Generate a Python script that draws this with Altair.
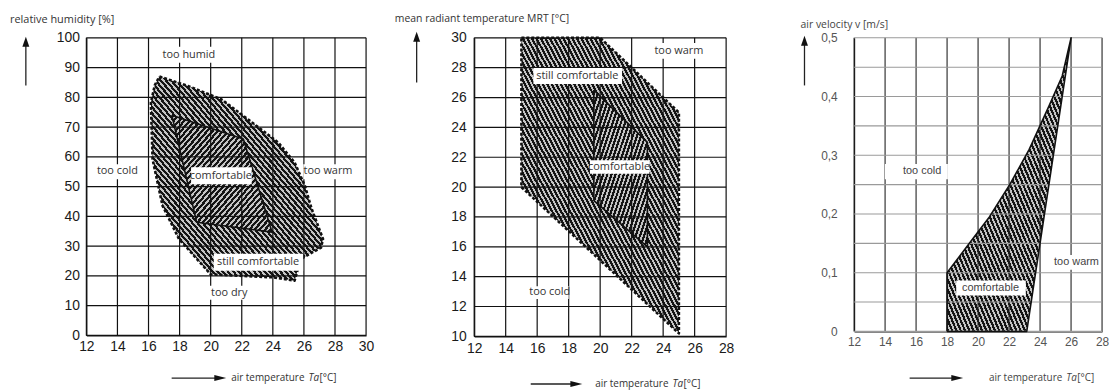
import altair as alt
import pandas as pd

# ---------------- Panel 1: relative humidity vs air temperature ----------------
p1_outer_x = [16.7, 18.6, 20.7, 22.4, 24.35, 25.4, 26.06, 26.5, 27.23, 27.1, 25.8, 25.4, 24.0, 20.0, 19.1, 17.96, 16.9, 16.26, 16.15, 16.4]
p1_outer_y = [87.0, 83.7, 79.3, 72.6, 64.8, 58.1, 50.3, 42.5, 32.4, 29.5, 25.7, 18.4, 19.5, 20.5, 25.75, 32.4, 43.6, 59.2, 78.2, 84.0]
p1_inner_x = [17.5, 22.1, 23.95, 19.1]
p1_inner_y = [74.0, 66.0, 34.7, 38.0]
p1_x_ticks = [12, 14, 16, 18, 20, 22, 24, 26, 28, 30]
p1_y_ticks = [0, 10, 20, 30, 40, 50, 60, 70, 80, 90, 100]
p1_labels = ["too humid", "too cold", "comfortable", "too warm", "still comfortable", "too dry"]
p1_label_x = [18.6, 14.0, 20.65, 27.55, 23.05, 21.2]
p1_label_y = [94.3, 55.2, 53.6, 55.2, 24.5, 14.4]
p1_box_x1 = [16.94, 12.66, 18.74, 25.96, 20.2, 19.9]
p1_box_x2 = [20.39, 15.40, 22.64, 29.15, 25.95, 22.5]
p1_box_y1 = [91.6, 52.5, 50.8, 52.5, 21.7, 12.0]
p1_box_y2 = [97.0, 57.5, 56.5, 57.5, 27.4, 16.7]

# ---------------- Panel 2: mean radiant temperature vs air temperature ----------------
p2_outer_x = [15.0, 20.0, 25.0, 25.0, 15.0]
p2_outer_y = [30.0, 30.0, 25.0, 10.2, 20.0]
p2_inner_x = [19.6, 23.0, 23.0, 19.6]
p2_inner_y = [26.5, 23.0, 16.0, 19.1]
p2_x_ticks = [12, 14, 16, 18, 20, 22, 24, 26, 28]
p2_y_ticks = [10, 12, 14, 16, 18, 20, 22, 24, 26, 28, 30]
p2_labels = ["too warm", "still comfortable", "comfortable", "too cold"]
p2_label_x = [25.0, 18.55, 21.2, 16.8]
p2_label_y = [29.1, 27.45, 21.37, 12.94]
p2_box_x1 = [23.28, 15.76, 19.35, 15.5]
p2_box_x2 = [26.74, 21.39, 23.13, 18.0]
p2_box_y1 = [28.59, 26.9, 20.9, 12.5]
p2_box_y2 = [29.65, 27.97, 21.8, 13.35]

# ---------------- Panel 3: air velocity vs air temperature ----------------
p3_poly_x = [18.0, 18.0, 19.44, 20.73, 22.0, 23.3, 24.58, 25.43, 26.0, 23.14]
p3_poly_y = [0.0, 0.1, 0.15, 0.195, 0.248, 0.31, 0.384, 0.435, 0.5, 0.0]
p3_x_ticks = [12, 14, 16, 18, 20, 22, 24, 26, 28]
p3_y_ticks = [0, 0.05, 0.1, 0.15, 0.2, 0.25, 0.3, 0.35, 0.4, 0.45, 0.5]
p3_labels = ["too cold", "comfortable", "too warm"]
p3_label_x = [16.39, 20.8, 26.35]
p3_label_y = [0.2735, 0.0742, 0.1178]
p3_box_x1 = [13.99, 18.59, 24.9]
p3_box_x2 = [18.05, 23.08, 27.9]
p3_box_y1 = [0.259, 0.0612, 0.105]
p3_box_y2 = [0.285, 0.0867, 0.13]

TITLE_FONT = "Open Sans"
TICK_FONT = "Liberation Sans"
ONE = pd.DataFrame({"k": [0]})


def hatch(n, forward=True, dark="#151515", light="#c4c4c4", frac=0.55):
    stops = []
    for i in range(n):
        a, b, c = i / n, (i + frac) / n, (i + 1) / n
        stops += [
            alt.GradientStop(color=dark, offset=a),
            alt.GradientStop(color=dark, offset=b),
            alt.GradientStop(color=light, offset=b),
            alt.GradientStop(color=light, offset=min(c, 1.0)),
        ]
    if forward:
        return alt.LinearGradient(gradient="linear", stops=stops, x1=0, y1=0, x2=1, y2=1)
    return alt.LinearGradient(gradient="linear", stops=stops, x1=0, y1=1, x2=1, y2=0)


def poly_df(xs, ys):
    xs = list(xs) + [xs[0]]
    ys = list(ys) + [ys[0]]
    return pd.DataFrame({"x": xs, "y": ys, "i": list(range(len(xs)))})


def make_panel(cfg):
    def X(field="x"):
        return alt.X(field, type="quantitative", scale=cfg["xscale"], axis=cfg["xaxis"])

    def Y(field="y"):
        return alt.Y(field, type="quantitative", scale=cfg["yscale"], axis=cfg["yaxis"])

    layers = []
    # hatched fills
    for (xs, ys, grad, dash, sw) in cfg["polys"]:
        layers.append(
            alt.Chart(poly_df(xs, ys)).mark_line(fill=grad, stroke="#111111", strokeWidth=0, fillOpacity=1)
            .encode(x=X(), y=Y(), order=alt.Order("i:Q"))
        )
    # grid lines drawn through the tick values
    vx = pd.DataFrame({"x": cfg["xticks"]})
    hy = pd.DataFrame({"y": cfg["yticks"]})
    layers.append(alt.Chart(vx).mark_rule(color=cfg["vgrid"], strokeWidth=cfg["gw"]).encode(x=X()))
    layers.append(alt.Chart(hy).mark_rule(color=cfg["hgrid"], strokeWidth=cfg["gw"])
                  .encode(y=Y(), x=alt.value(0), x2=alt.value(cfg["plot_w"])))
    # outlines
    for (xs, ys, grad, dash, sw) in cfg["polys"]:
        mk = dict(stroke="#111111", strokeWidth=sw, strokeJoin="round", fill=None)
        mk.pop("fill")
        if dash:
            mk["strokeDash"] = dash
        layers.append(
            alt.Chart(poly_df(xs, ys)).mark_line(**mk).encode(x=X(), y=Y(), order=alt.Order("i:Q"))
        )
    boxes = pd.DataFrame({"x": cfg["bx1"], "x2": cfg["bx2"], "y": cfg["by1"], "y2": cfg["by2"]})
    layers.append(
        alt.Chart(boxes).mark_rect(fill="white", strokeWidth=0).encode(
            x=X(), x2="x2:Q", y=Y(), y2="y2:Q"
        )
    )
    labs = pd.DataFrame({"x": cfg["lx"], "y": cfg["ly"], "t": cfg["labels"]})
    layers.append(
        alt.Chart(labs).mark_text(font=cfg["lab_font"], fontSize=cfg["lab_size"], color=cfg["lab_color"],
                                  align="center", baseline="middle").encode(x=X(), y=Y(), text="t:N")
    )
    # y title and arrow
    tx, ty = cfg["ytitle_pos"]
    layers.append(alt.Chart(ONE).mark_text(text=cfg["ytitle"], font=TITLE_FONT, fontSize=cfg["title_size"],
                                           color=cfg["title_color"], align="left", baseline="middle")
                  .encode(x=alt.value(tx), y=alt.value(ty)))
    ax, ay1, ay2 = cfg["uparrow"]
    layers.append(alt.Chart(ONE).mark_rule(color="#222", strokeWidth=1.3)
                  .encode(x=alt.value(ax), y=alt.value(ay1), y2=alt.value(ay2)))
    layers.append(alt.Chart(ONE).mark_point(shape="M-0.7,1L0,-1L0.7,1Z", filled=True, size=100, color="#111", opacity=1)
                  .encode(x=alt.value(ax), y=alt.value(ay2)))
    # x title and arrow
    hx1, hx2, hy_ = cfg["rightarrow"]
    layers.append(alt.Chart(ONE).mark_rule(color="#222", strokeWidth=1.3)
                  .encode(x=alt.value(hx1), x2=alt.value(hx2), y=alt.value(hy_)))
    layers.append(alt.Chart(ONE).mark_point(shape="M-1,-0.5L1,0L-1,0.5Z", filled=True, size=144, color="#111", opacity=1)
                  .encode(x=alt.value(hx2), y=alt.value(hy_)))
    sx, sy = cfg["xtitle_pos"]
    parts = [("air temperature", "normal", 0), ("Ta", "italic", cfg["ta_dx"]), ("[°C]", "normal", cfg["unit_dx"])]
    for txt, style, dx in parts:
        layers.append(alt.Chart(ONE).mark_text(text=txt, font=TITLE_FONT, fontSize=cfg["xtitle_size"], fontStyle=style,
                                               color=cfg["title_color"], align="left", baseline="middle")
                      .encode(x=alt.value(sx + dx), y=alt.value(sy)))
    return alt.layer(*layers).properties(width=cfg["width"], height=cfg["height"])


def axis(values, label_size, label_color, pad, label_expr=None):
    kw = dict(values=values, grid=False, domainColor="#111111", domainWidth=1.2, ticks=False,
              labelFont=TICK_FONT, labelFontSize=label_size, labelColor=label_color, labelPadding=pad,
              title=None, labelOverlap=False, labelFlush=False)
    if label_expr:
        kw["labelExpr"] = label_expr
    return alt.Axis(**kw)


p1 = make_panel(dict(
    xscale=alt.Scale(domain=[12, 30], nice=False, zero=False),
    yscale=alt.Scale(domain=[0, 100], nice=False, zero=False),
    xaxis=axis(p1_x_ticks, 14, "#1a1a1a", 4),
    yaxis=axis(p1_y_ticks, 14, "#1a1a1a", 7),
    xticks=p1_x_ticks, yticks=p1_y_ticks, vgrid="#111111", hgrid="#111111", gw=1.2, plot_w=282,
    polys=[(p1_outer_x, p1_outer_y, hatch(66, False), [3, 2], 2.6),
           (p1_inner_x, p1_inner_y, hatch(38, True), None, 1.6)],
    bx1=p1_box_x1, bx2=p1_box_x2, by1=p1_box_y1, by2=p1_box_y2,
    lx=p1_label_x, ly=p1_label_y, labels=p1_labels,
    lab_font=TITLE_FONT, lab_size=11, lab_color="#333333",
    ytitle="relative humidity [%]", ytitle_pos=(-77, -18), title_size=11, title_color="#333333",
    uparrow=(-61, 48, 4), rightarrow=(86, 135, 343), xtitle_pos=(146, 343), xtitle_size=10,
    ta_dx=78, unit_dx=89,
    width=282, height=300,
))

p2 = make_panel(dict(
    xscale=alt.Scale(domain=[12, 28], nice=False, zero=False, range=[0, 254]),
    yscale=alt.Scale(domain=[10, 30], nice=False, zero=False),
    xaxis=axis(p2_x_ticks, 14, "#1a1a1a", 5),
    yaxis=axis(p2_y_ticks, 14, "#1a1a1a", 8),
    xticks=p2_x_ticks, yticks=p2_y_ticks, vgrid="#111111", hgrid="#111111", gw=1.2, plot_w=254,
    polys=[(p2_outer_x, p2_outer_y, hatch(70, False), [3, 2], 2.6),
           (p2_inner_x, p2_inner_y, hatch(26, True), None, 1.6)],
    bx1=p2_box_x1, bx2=p2_box_x2, by1=p2_box_y1, by2=p2_box_y2,
    lx=p2_label_x, ly=p2_label_y, labels=p2_labels,
    lab_font=TITLE_FONT, lab_size=11, lab_color="#333333",
    ytitle="mean radiant temperature MRT [°C]", ytitle_pos=(-80, -19), title_size=10.5, title_color="#333333",
    uparrow=(-58, 45, -1), rightarrow=(57, 103, 349), xtitle_pos=(122, 349), xtitle_size=10,
    ta_dx=78, unit_dx=89,
    width=274, height=301,
))

p3 = make_panel(dict(
    xscale=alt.Scale(domain=[12, 28], nice=False, zero=False),
    yscale=alt.Scale(domain=[0, 0.5], nice=False, zero=False),
    xaxis=axis(p3_x_ticks, 12, "#555555", 5),
    yaxis=axis(p3_y_ticks, 12, "#555555", 17,
               label_expr="(round(datum.value*100) % 10 == 0) ? replace(format(datum.value, '.1~f'), '.', ',') : ''"),
    xticks=p3_x_ticks, yticks=p3_y_ticks, vgrid="#222222", hgrid="#9a9a9a", gw=1.1, plot_w=250,
    polys=[(p3_poly_x, p3_poly_y, hatch(58, False), None, 1.6)],
    bx1=p3_box_x1, bx2=p3_box_x2, by1=p3_box_y1, by2=p3_box_y2,
    lx=p3_label_x, ly=p3_label_y, labels=p3_labels,
    lab_font=TICK_FONT, lab_size=11, lab_color="#444444",
    ytitle="air velocity v [m/s]", ytitle_pos=(-54, -13), title_size=10.5, title_color="#444444",
    uparrow=(-50, 48, 3), rightarrow=(56, 104, 343), xtitle_pos=(136, 343), xtitle_size=10,
    ta_dx=78, unit_dx=89,
    width=250, height=296,
))

chart = alt.hconcat(p1, p2, p3, spacing=109, bounds="flush").properties(
    padding={"left": 2, "top": 4.5, "right": 0, "bottom": 0},
    background="white",
).configure_view(stroke=None)

chart.save("out.html", embed_options={"renderer": "svg", "actions": False})
